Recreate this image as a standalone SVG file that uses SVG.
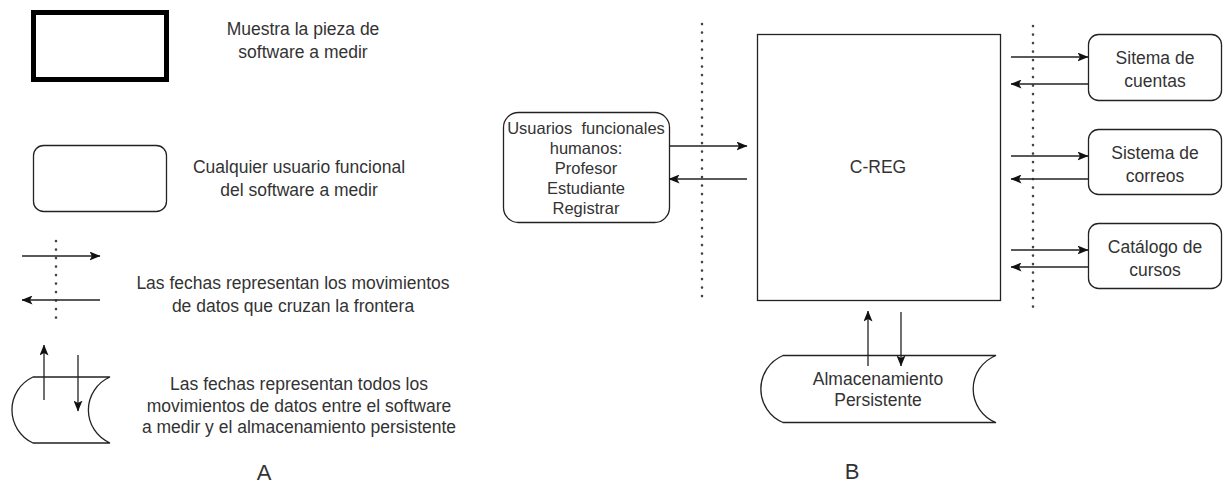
<svg xmlns="http://www.w3.org/2000/svg" width="1229" height="485" viewBox="0 0 1229 485">
  <style>
    text { font-family: "Liberation Sans", Arial, sans-serif; font-size: 17.5px; fill: #333; text-anchor: middle; }
    .box { fill: #fff; stroke: #222; stroke-width: 1.3; }
    .thick { fill: #fff; stroke: #000; stroke-width: 5; }
    .flow { fill: none; stroke: #222; stroke-width: 1.3; marker-end: url(#arrow); }
    .dots { fill: none; stroke: #444; stroke-width: 2.6; stroke-dasharray: 0.1 8.4; stroke-linecap: round; }
    .label { font-size: 22px; }
  </style>
  <defs>
    <marker id="arrow" viewBox="0 0 11 9" refX="10.5" refY="4.5" markerWidth="11" markerHeight="9" markerUnits="userSpaceOnUse" orient="auto">
      <path d="M0,0 L11,4.5 L0,9 L2.5,4.5 Z" fill="#111"/>
    </marker>
  </defs>

  <!-- Legend (A) -->
  <g id="legend">
    <g id="legend-software">
      <rect class="thick" x="33.5" y="12.5" width="133" height="67"/>
      <text x="303" y="35">Muestra la pieza de</text>
      <text x="303" y="58">software a medir</text>
    </g>
    <g id="legend-user">
      <rect class="box" x="33.5" y="145.5" width="133" height="66" rx="10"/>
      <text x="299" y="173">Cualquier usuario funcional</text>
      <text x="299" y="196">del software a medir</text>
    </g>
    <g id="legend-boundary">
      <line class="dots" x1="56" y1="241" x2="56" y2="322"/>
      <line class="flow" x1="22" y1="256" x2="100" y2="256"/>
      <line class="flow" x1="100" y1="300" x2="22" y2="300"/>
      <text x="293" y="289">Las fechas representan los movimientos</text>
      <text x="293" y="312">de datos que cruzan la frontera</text>
    </g>
    <g id="legend-storage">
      <path class="box" d="M33,377 L110,377 A36,36 0 0 0 110,443 L33,443 A36.4,36.4 0 0 1 33,377 Z"/>
      <line class="flow" x1="44" y1="400" x2="44" y2="345"/>
      <line class="flow" x1="78" y1="355" x2="78" y2="411"/>
      <text x="299" y="390">Las fechas representan todos los</text>
      <text x="299" y="412">movimientos de datos entre el software</text>
      <text x="299" y="433">a medir y el almacenamiento persistente</text>
    </g>
    <text class="label" x="264" y="480">A</text>
  </g>

  <!-- Context diagram (B) -->
  <g id="boundaries">
    <line class="dots" x1="702" y1="24" x2="702" y2="300"/>
    <line class="dots" x1="1033" y1="26" x2="1033" y2="308"/>
  </g>

  <g id="c-reg">
    <rect class="box" x="757.5" y="34.5" width="243" height="266"/>
    <text x="878" y="173">C-REG</text>
  </g>

  <g id="usuarios">
    <rect class="box" x="503.5" y="112.5" width="166" height="110" rx="15"/>
    <text x="586" y="134" style="font-size:16.5px" xml:space="preserve">Usuarios  funcionales</text>
    <text x="586" y="154" style="font-size:16.5px">humanos:</text>
    <text x="586" y="174" style="font-size:16.5px">Profesor</text>
    <text x="586" y="194" style="font-size:16.5px">Estudiante</text>
    <text x="586" y="214" style="font-size:16.5px">Registrar</text>
  </g>

  <g id="cuentas">
    <rect class="box" x="1088.5" y="34.5" width="133" height="66" rx="10"/>
    <text x="1155" y="64">Sitema de</text>
    <text x="1155" y="87">cuentas</text>
  </g>

  <g id="correos">
    <rect class="box" x="1088.5" y="129.5" width="133" height="65" rx="10"/>
    <text x="1155" y="159">Sistema de</text>
    <text x="1155" y="182">correos</text>
  </g>

  <g id="catalogo">
    <rect class="box" x="1088.5" y="223.5" width="133" height="65" rx="10"/>
    <text x="1155" y="253">Catálogo de</text>
    <text x="1155" y="276">cursos</text>
  </g>

  <g id="almacenamiento">
    <path class="box" d="M783,355.5 L996,355.5 A36,36 0 0 0 996,422.5 L783,422.5 A36.4,36.4 0 0 1 783,355.5 Z"/>
    <text x="878" y="385">Almacenamiento</text>
    <text x="878" y="406">Persistente</text>
  </g>

  <text class="label" x="852" y="479">B</text>

  <g id="connectors">
    <line class="flow" x1="669" y1="146" x2="747" y2="146"/>
    <line class="flow" x1="747" y1="179" x2="669" y2="179"/>
    <line class="flow" x1="1011" y1="57" x2="1088" y2="57"/>
    <line class="flow" x1="1088" y1="84" x2="1011" y2="84"/>
    <line class="flow" x1="1011" y1="156" x2="1088" y2="156"/>
    <line class="flow" x1="1088" y1="179" x2="1011" y2="179"/>
    <line class="flow" x1="1011" y1="250" x2="1088" y2="250"/>
    <line class="flow" x1="1088" y1="267" x2="1011" y2="267"/>
    <line class="flow" x1="868" y1="366" x2="868" y2="311"/>
    <line class="flow" x1="901" y1="312" x2="901" y2="366"/>
  </g>
</svg>
